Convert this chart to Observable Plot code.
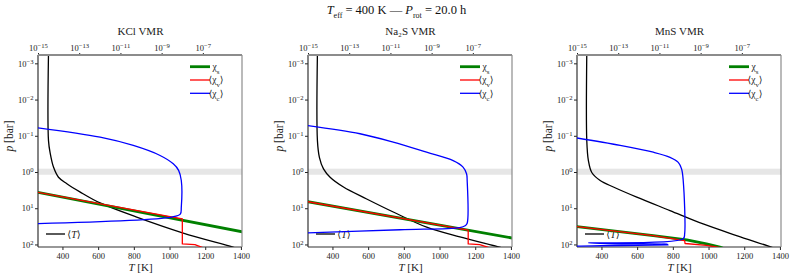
<!DOCTYPE html>
<html><head><meta charset="utf-8">
<script src="https://cdn.jsdelivr.net/npm/d3@7"></script>
<script src="https://cdn.jsdelivr.net/npm/@observablehq/plot@0.6"></script>
<style>
body{margin:0;width:793px;height:277px;position:relative;overflow:hidden;background:#fff;font-family:"Liberation Serif","DejaVu Serif",serif;color:#111;}
.layer{position:absolute;top:0;}
.layer svg{overflow:visible;display:block;font-family:"Liberation Serif","DejaVu Serif",serif !important;}
#title{position:absolute;top:2px;left:0;width:793px;text-align:center;font-size:12.5px;line-height:16px;}
#title sub{font-size:8px;}
</style></head><body>
<div id="title"><i>T</i><sub>eff</sub> = 400 K — <i>P</i><sub>rot</sub> = 20.0 h</div>
<script>
// ---------- tick values ----------
const T_TICKS = [400, 600, 800, 1000, 1200, 1400];
const P_TICK_EXP = [-3, -2, -1, 0, 1, 2];
const V_TICK_EXP = [-15, -13, -11, -9, -7];
const BAND_P = [0.81, 1.19];
const SPECIES = ["KCl", "Na₂S", "MnS"];

// ---------- KCl ----------
const kcl_T = [319, 319, 329, 347, 375, 422, 497, 608, 813, 1074, 1353, 1375];
const kcl_T_logp = [-3.3, -0.88, -0.52, -0.15, 0.13, 0.31, 0.54, 0.84, 1.23, 1.67, 2.06, 2.1];
const kcl_s_logv = [-15.1, -5.0];
const kcl_s_logp = [0.54, 1.65];
const kcl_v_logv = [-15.1, -8.02, -8.02, -7.41, -7.0];
const kcl_v_logp = [0.54, 1.28, 1.97, 1.99, 2.08];
const kcl_c_logv = [-15.1, -12.01, -10.40, -9.10, -8.46, -8.20, -8.07, -8.07, -8.12, -8.54, -15.1];
const kcl_c_logp = [-1.24, -0.975, -0.746, -0.47, -0.24, -0.06, 0.22, 0.96, 1.15, 1.23, 1.41];

// ---------- Na2S ----------
const na2s_T = [313, 313, 324, 347, 384, 459, 589, 738, 925, 1111, 1334, 1360];
const na2s_T_logp = [-3.3, -0.88, -0.42, -0.10, 0.13, 0.40, 0.73, 1.09, 1.51, 1.78, 2.06, 2.1];
const na2s_s_logv = [-15.1, -5.0];
const na2s_s_logp = [0.80, 1.82];
const na2s_v_logv = [-15.1, -7.25, -7.25, -6.69, -6.2];
const na2s_v_logp = [0.80, 1.59, 1.97, 1.99, 2.08];
const na2s_c_logv = [-15.1, -12.50, -10.89, -9.27, -7.98, -7.50, -7.33, -7.30, -7.30, -7.40, -7.66, -10.56, -15.1];
const na2s_c_logp = [-1.30, -1.07, -0.84, -0.56, -0.33, -0.15, 0.035, 0.22, 1.40, 1.47, 1.52, 1.58, 1.67];

// ---------- MnS ----------
const mns_T = [315, 315, 324, 343, 390, 464, 595, 781, 967, 1154, 1349, 1370];
const mns_T_logp = [-3.3, -0.88, -0.33, 0.0, 0.22, 0.40, 0.68, 1.05, 1.42, 1.74, 2.06, 2.1];
const mns_s_logv = [-15.1, -11.32, -9.70, -8.74, -8.09, -7.9];
const mns_s_logp = [1.49, 1.74, 1.86, 1.97, 2.06, 2.1];
const mns_v_logv = [-15.1, -11.32, -9.80, -9.78, -8.74, -8.0];
const mns_v_logp = [1.49, 1.74, 1.88, 1.96, 2.01, 2.08];
const mns_c_logv = [-15.1, -12.93, -11.32, -10.51, -10.11, -9.95, -9.87, -9.80, -9.87, -14.47, -10.61, -15.1, -10.61];
const mns_c_logp = [-0.96, -0.75, -0.56, -0.42, -0.28, -0.10, 0.22, 1.69, 1.83, 1.945, 1.975, 2.03, 2.0];

const PANELS = [
  {name: SPECIES[0], T: kcl_T, Tp: kcl_T_logp, sv: kcl_s_logv, sp: kcl_s_logp, vv: kcl_v_logv, vp: kcl_v_logp, cv: kcl_c_logv, cp: kcl_c_logp},
  {name: SPECIES[1], T: na2s_T, Tp: na2s_T_logp, sv: na2s_s_logv, sp: na2s_s_logp, vv: na2s_v_logv, vp: na2s_v_logp, cv: na2s_c_logv, cp: na2s_c_logp},
  {name: SPECIES[2], T: mns_T, Tp: mns_T_logp, sv: mns_s_logv, sp: mns_s_logp, vv: mns_v_logv, vp: mns_v_logp, cv: mns_c_logv, cp: mns_c_logp}
];

// ---------- layout ----------
const LEFTS = [38.3, 308.2, 577.3];
const ML = 40, MR = 12, MT = 55, MB = 30, FW = 204, W = ML + FW + MR, H = 277;
const FONT = "'Liberation Serif', 'DejaVu Serif', serif";
const yDomain = [10 ** -3.23, 10 ** 2.07];
const tDomain = [263, 1406];
const vDomain = [1e-15, 10 ** -5.1];

const fmtPow = d => "10^{" + String(Math.round(Math.log10(d))).replace("-", "−") + "}";
const SVGNS = "http://www.w3.org/2000/svg";

function rich(svg) {
  d3.select(svg).selectAll("text").each(function() {
    const el = this;
    const s = el.textContent;
    if (!/[\^_*]/.test(s)) return;
    while (el.firstChild) el.removeChild(el.firstChild);
    s.split(/(\^\{[^}]*\}|_\{[^}]*\}|\*[^*]+\*)/).forEach(part => {
      if (!part) return;
      const ts = document.createElementNS(SVGNS, "tspan");
      if (part.startsWith("^{")) { ts.textContent = part.slice(2, -1); ts.setAttribute("baseline-shift", "super"); ts.setAttribute("font-size", "78%"); }
      else if (part.startsWith("_{")) { ts.textContent = part.slice(2, -1); ts.setAttribute("baseline-shift", "sub"); ts.setAttribute("font-size", "72%"); }
      else if (part.startsWith("*")) { ts.textContent = part.slice(1, -1); ts.setAttribute("font-style", "italic"); }
      else ts.textContent = part;
      el.appendChild(ts);
    });
  });
}

function addLine(svg, x1, y1, x2, y2, stroke, sw) {
  d3.select(svg).append("line").attr("x1", x1).attr("y1", y1).attr("x2", x2).attr("y2", y2)
    .attr("stroke", stroke).attr("stroke-width", sw);
}
function addText(svg, x, y, txt, size) {
  d3.select(svg).append("text").attr("x", x).attr("y", y).attr("dy", "0.35em")
    .attr("font-size", size).attr("fill", "#222").text(txt);
}

PANELS.forEach((P, i) => {
  const tbl = (xs, ys, kx) => xs.map((x, k) => ({[kx]: kx === "T" ? x : 10 ** x, p: 10 ** ys[k]}));
  const black = tbl(P.T, P.Tp, "T");
  const sat = tbl(P.sv, P.sp, "v");
  const vap = tbl(P.vv, P.vp, "v");
  const cond = tbl(P.cv, P.cp, "v");

  const common = {width: W, height: H, marginTop: MT, marginBottom: MB, marginLeft: ML, marginRight: MR,
    style: {fontFamily: FONT, fontSize: "8.5px", background: "transparent", color: "#222", overflow: "visible"}};

  const plotT = Plot.plot({
    ...common,
    x: {domain: tDomain},
    y: {type: "log", domain: yDomain, reverse: true},
    marks: [
      Plot.rect([BAND_P], {y1: d => d[0], y2: d => d[1], fill: "#e6e6e6"}),
      Plot.line(black, {x: "T", y: "p", stroke: "black", strokeWidth: 1.3, curve: "catmull-rom", clip: true}),
      Plot.axisX({ticks: T_TICKS, tickSize: 3, tickPadding: 2, label: null, tickFormat: d => String(d)}),
      Plot.axisY({ticks: P_TICK_EXP.map(e => 10 ** e), tickSize: 3, tickPadding: 2, label: null, tickFormat: fmtPow}),
      Plot.text(["*T* [K]"], {frameAnchor: "bottom", dy: 23.5, fontSize: 11}),
      Plot.text(["*p* [bar]"], {frameAnchor: "left", dx: -29, rotate: -90, fontSize: 11.5})
    ]
  });

  const plotV = Plot.plot({
    ...common,
    x: {type: "log", domain: vDomain},
    y: {type: "log", domain: yDomain, reverse: true, axis: null},
    marks: [
      Plot.line(sat, {x: "v", y: "p", stroke: "green", strokeWidth: 2.8, clip: true}),
      Plot.line(vap, {x: "v", y: "p", stroke: "red", strokeWidth: 1.3, clip: true}),
      Plot.line(cond, {x: "v", y: "p", stroke: "blue", strokeWidth: 1.3, curve: "catmull-rom", clip: true}),
      Plot.axisX({anchor: "top", ticks: V_TICK_EXP.map(e => 10 ** e), tickSize: 3, tickPadding: 2, label: null, tickFormat: fmtPow}),
      Plot.text([P.name + " VMR"], {frameAnchor: "top", dy: -28, fontSize: 11})
    ]
  });

  // spines
  const R = ML + FW, B = H - MB;
  addLine(plotT, ML, MT, ML, B, "#333", 1.2);
  addLine(plotT, ML, B, R, B, "#333", 1.2);
  addLine(plotV, ML, MT, R, MT, "#8c8c8c", 2);
  addLine(plotV, R, MT, R, B, "#8c8c8c", 1.2);

  // <T> legend (lower left)
  addLine(plotT, ML + 8, B - 13, ML + 27, B - 13, "black", 1.3);
  addText(plotT, ML + 36, B - 13, "⟨*T*⟩", 10);
  // VMR legend (upper right)
  const ent = [["green", 2.8, "χ_{s}"], ["red", 1.3, "⟨χ_{v}⟩"], ["blue", 1.3, "⟨χ_{c}⟩"]];
  ent.forEach(([c, w, t], k) => {
    const y = MT + 11.7 + k * 13.3;
    addLine(plotV, R - 52, y, R - 32, y, c, w);
    addText(plotV, R - 26, y, t, 9.5);
  });

  rich(plotT); rich(plotV);

  [plotT, plotV].forEach(svg => {
    const div = document.createElement("div");
    div.className = "layer";
    div.style.left = (LEFTS[i] - ML) + "px";
    div.style.width = W + "px";
    div.appendChild(svg);
    document.body.appendChild(div);
  });
});
</script>
</body></html>
